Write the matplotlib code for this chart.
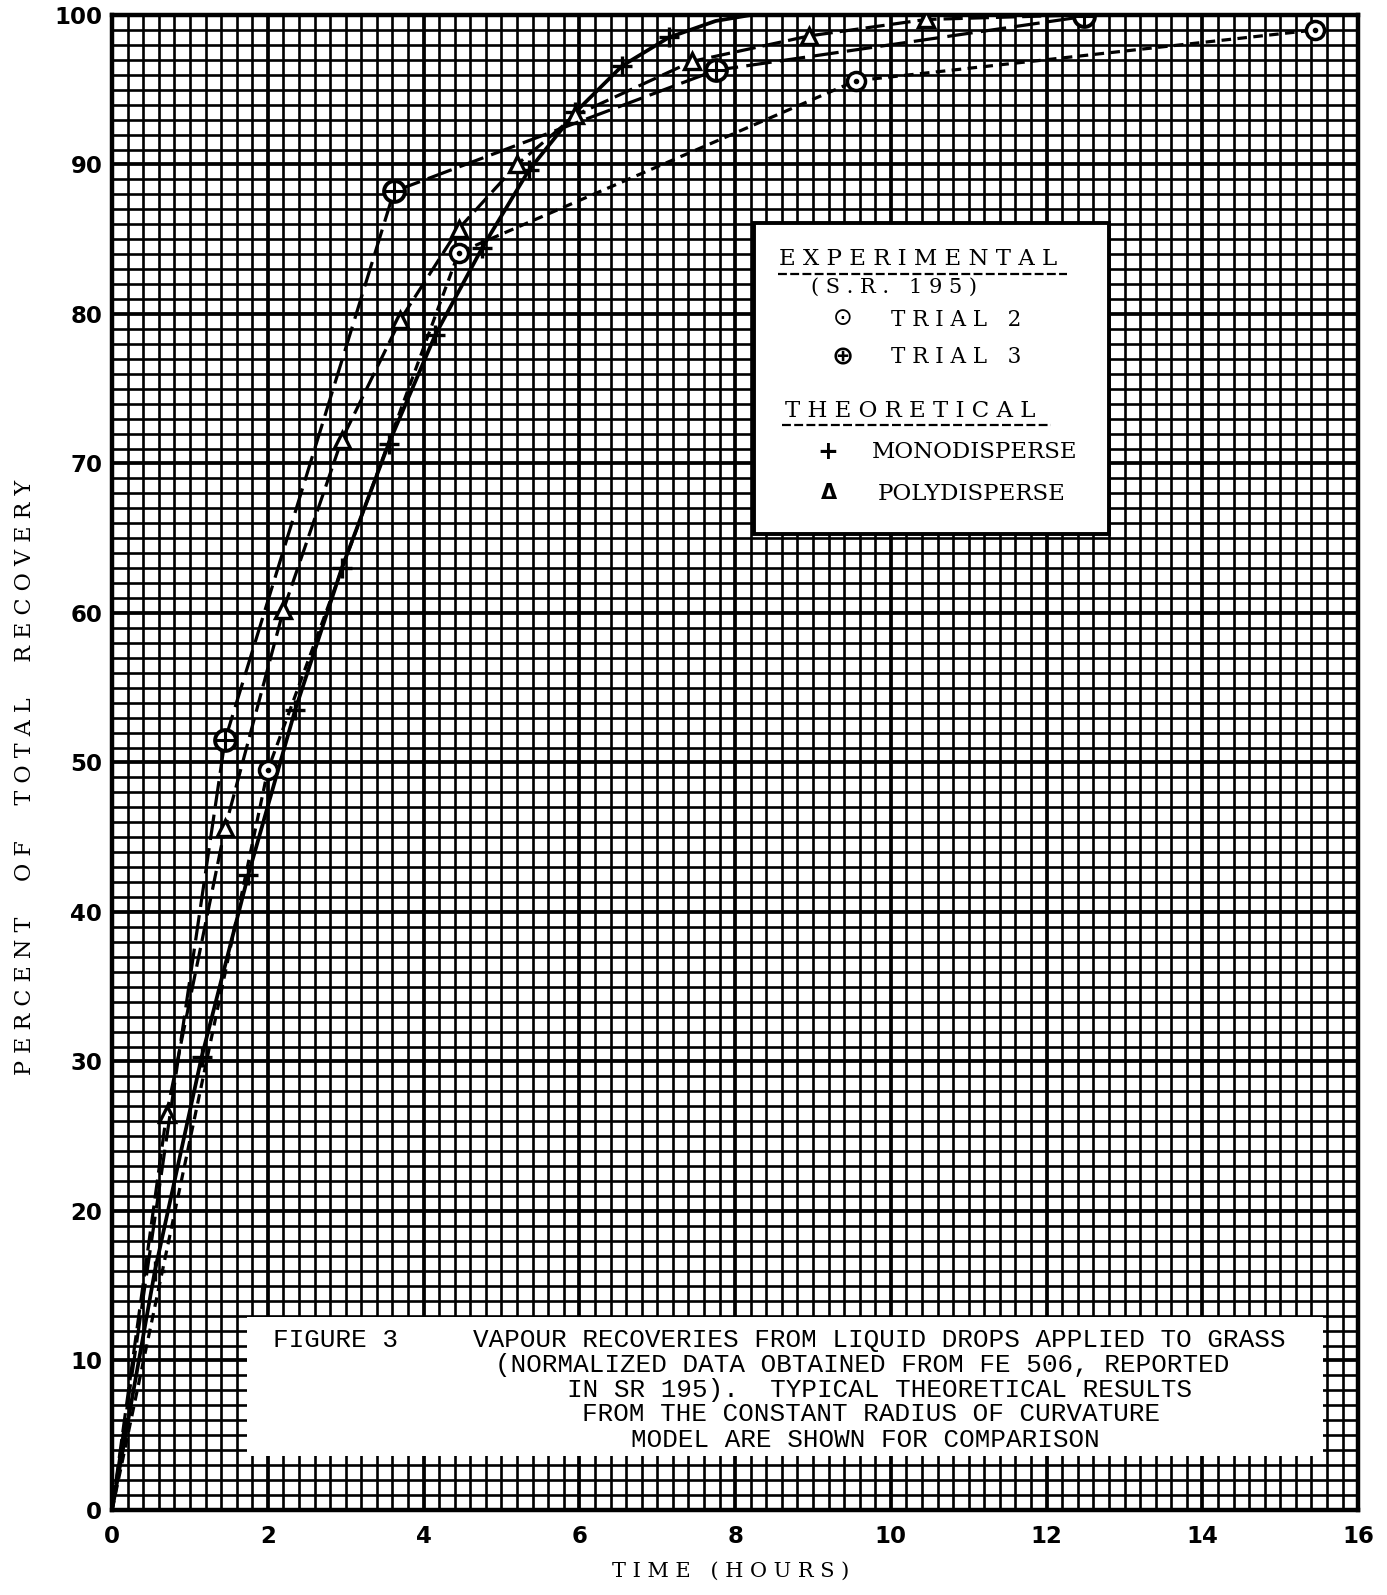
import numpy as np
import matplotlib.pyplot as plt
from matplotlib.patches import Rectangle
from matplotlib.ticker import MultipleLocator

# theoretical curves
mono_t = [0, 0.55, 1.15, 1.75, 2.35, 2.95, 3.55, 4.15, 4.75, 5.35, 5.95, 6.55, 7.15, 7.75, 8.2]
mono_pct = [0, 16.0, 30.3, 42.5, 53.5, 63.0, 71.3, 78.6, 84.4, 89.6, 93.5, 96.6, 98.5, 99.6, 100]

poly_t = [0, 0.7, 1.45, 2.2, 2.95, 3.7, 4.45, 5.2, 5.95, 7.45, 8.95, 10.45, 12.4]
poly_pct = [0, 26.5, 45.6, 60.2, 71.6, 79.6, 85.7, 90.0, 93.3, 96.9, 98.6, 99.7, 100]

# experimental runs (S.R. 195)
trial2_t = [0, 2.0, 4.45, 9.55, 15.45]
trial2_pct = [0, 49.5, 84.1, 95.6, 99.0]

trial3_t = [0, 1.45, 3.62, 7.75, 12.48]
trial3_pct = [0, 51.5, 88.2, 96.3, 99.9]

x_ticks = [0, 2, 4, 6, 8, 10, 12, 14, 16]
y_ticks = [0, 10, 20, 30, 40, 50, 60, 70, 80, 90, 100]

caption_lines = [
    "VAPOUR RECOVERIES FROM LIQUID DROPS APPLIED TO GRASS",
    "(NORMALIZED DATA OBTAINED FROM FE 506, REPORTED",
    "IN SR 195).  TYPICAL THEORETICAL RESULTS",
    "FROM THE CONSTANT RADIUS OF CURVATURE",
    "MODEL ARE SHOWN FOR COMPARISON",
]
caption_x = [9.85, 9.63, 9.85, 9.75, 9.67]
caption_y = [11.36, 9.72, 8.03, 6.39, 4.68]

SERIF = 'DejaVu Serif'
MONO = 'Liberation Mono'

fig = plt.figure(figsize=(13.87, 15.95), dpi=100)
ax = fig.add_axes([0.0808, 0.0533, 0.8984, 0.9373])
ax.set_xlim(0, 16)
ax.set_ylim(0, 100)

# graph paper
ax.xaxis.set_major_locator(MultipleLocator(2))
ax.xaxis.set_minor_locator(MultipleLocator(0.2))
ax.yaxis.set_major_locator(MultipleLocator(10))
ax.yaxis.set_minor_locator(MultipleLocator(1))
ax.grid(which='minor', color='black', lw=1.9)
ax.grid(which='major', color='black', lw=2.7)
ax.tick_params(which='both', length=0)
ax.tick_params(axis='x', pad=11)
ax.tick_params(axis='y', pad=7)
ax.set_xticks(x_ticks)
ax.set_xticklabels([str(v) for v in x_ticks], fontsize=16.5, fontweight='bold')
ax.set_yticks(y_ticks)
ax.set_yticklabels([str(v) for v in y_ticks], fontsize=16.5, fontweight='bold')
for s in ax.spines.values():
    s.set_linewidth(3.2)

# curves
ax.plot(mono_t, mono_pct, color='black', lw=2.7, marker='+', ms=15, mew=2.4,
        markevery=list(range(1, 13)), zorder=3)
ax.plot(poly_t, poly_pct, color='black', lw=2.3, dashes=(6, 2.2), marker='^',
        ms=11, mfc='white', mec='black', mew=2.4,
        markevery=list(range(1, len(poly_t) - 1)), zorder=3)
ax.plot(trial2_t, trial2_pct, color='black', lw=2.3, dashes=(3, 2), zorder=3)
ax.plot(trial3_t, trial3_pct, color='black', lw=2.3, dashes=(8, 2.6), zorder=3)

# trial markers: circle with dot / circle with cross
ax.plot(trial2_t[1:], trial2_pct[1:], ls='none', marker='o', ms=13, mfc='white',
        mec='black', mew=2.5, zorder=4)
ax.plot(trial2_t[1:], trial2_pct[1:], ls='none', marker='.', ms=6, color='black', zorder=5)
ax.plot(trial3_t[1:], trial3_pct[1:], ls='none', marker='o', ms=15, mfc='white',
        mec='black', mew=2.8, zorder=4)
ax.plot(trial3_t[1:], trial3_pct[1:], ls='none', marker='+', ms=13, mew=2.2,
        color='black', zorder=5)

# key
ax.add_patch(Rectangle((8.24, 65.3), 4.56, 20.8, fc='white', ec='black', lw=2.8, zorder=6))
key_kw = dict(family=SERIF, va='center', ha='left', zorder=7)
ax.text(8.56, 83.7, "E X P E R I M E N T A L", fontsize=16.5, **key_kw)
ax.plot([8.55, 12.26], [82.7, 82.7], color='black', lw=1.6, dashes=(4, 1.5), zorder=7)
ax.text(8.98, 81.8, "( S . R .   1 9 5 )", fontsize=15, **key_kw)
ax.text(9.38, 79.7, "\u2299", fontsize=17, family='DejaVu Sans', ha='center', va='center', zorder=7)
ax.text(10.0, 79.6, "T R I A L   2", fontsize=15.5, **key_kw)
ax.text(9.38, 77.1, "\u2295", fontsize=19, family='DejaVu Sans', fontweight='bold',
        ha='center', va='center', zorder=7)
ax.text(10.0, 77.1, "T R I A L   3", fontsize=15.5, **key_kw)
ax.text(8.64, 73.5, "T H E O R E T I C A L", fontsize=16.5, **key_kw)
ax.plot([8.60, 12.06], [72.6, 72.6], color='black', lw=1.6, dashes=(4, 1.5), zorder=7)
ax.text(9.19, 70.8, "+", fontsize=18, family='DejaVu Sans', fontweight='bold',
        ha='center', va='center', zorder=7)
ax.text(9.75, 70.8, "MONODISPERSE", fontsize=16.5, **key_kw)
ax.text(9.2, 68.0, "\u0394", fontsize=15, family='DejaVu Sans', fontweight='bold',
        ha='center', va='center', zorder=7)
ax.text(9.83, 67.95, "POLYDISPERSE", fontsize=16.5, **key_kw)

# caption panel
ax.add_patch(Rectangle((1.73, 3.6), 13.82, 9.3, fc='white', ec='none', zorder=6))
ax.text(2.06, 11.36, "FIGURE 3", family=MONO, fontsize=18.7, ha='left', va='center', zorder=7)
for line, cx, cy in zip(caption_lines, caption_x, caption_y):
    ax.text(cx, cy, line, family=MONO, fontsize=18.7, ha='center', va='center', zorder=7)

# axis titles
ax.set_xlabel("T I M E   ( H O U R S )", family=SERIF, fontsize=15, va='center')
ax.xaxis.set_label_coords(0.496, -0.0408)
ax.set_ylabel("P E R C E N T     O F     T O T A L     R E C O V E R Y",
              family=SERIF, fontsize=16, va='center')
ax.yaxis.set_label_coords(-0.0698, 0.49)

fig.savefig('out.png', dpi=100)
